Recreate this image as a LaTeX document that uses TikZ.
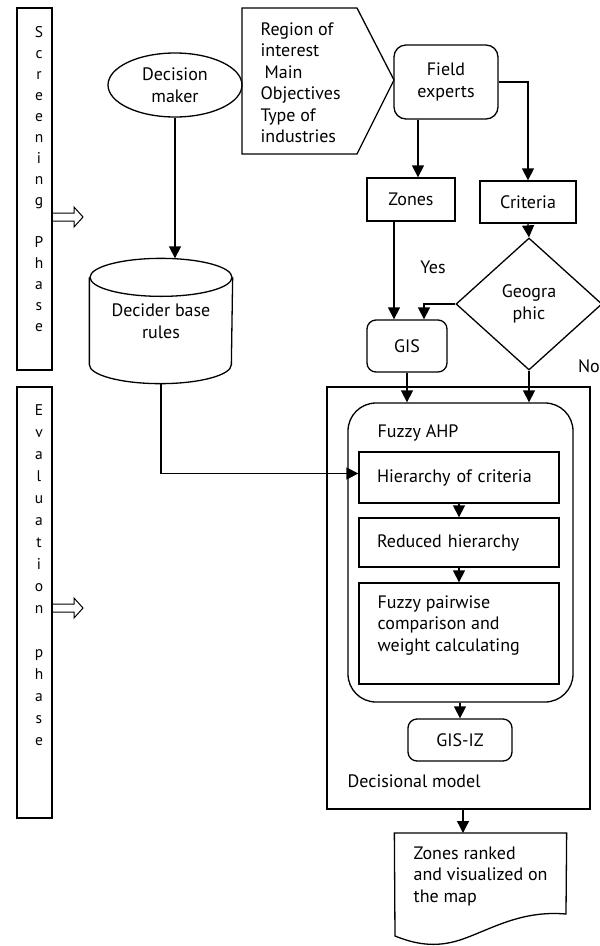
\documentclass[tikz,border=0pt]{standalone}
\usepackage{fontspec}
\setmainfont{PT Sans}
\usetikzlibrary{shapes.geometric,arrows.meta}

\begin{document}
\begin{tikzpicture}[x=1pt,y=-1pt,line width=1.3pt,
  every node/.style={font=\fontsize{18}{21.5}\selectfont, inner sep=0pt},
  box/.style={draw, rectangle},
  rbox/.style={draw, rectangle, rounded corners=12pt},
  inbox/.style={box, minimum width=200, text width=164, align=left},
  arr/.style={-{Triangle[length=12pt,width=12pt]}},
  letters/.style={align=center, anchor=north, font=\fontsize{15.5}{21}\selectfont}]
\useasboundingbox (0,0) rectangle (600,946);
\node[box, minimum width=35, minimum height=362] (screen) at (34.5,189) {};
\node[letters] (screentxt) at (39,26) {S\\c\\r\\e\\e\\n\\i\\n\\g\\[21pt]P\\h\\a\\s\\e};
\node[box, minimum width=35, minimum height=431] (eval) at (34.5,602.5) {};
\node[letters, font=\fontsize{15.5}{22}\selectfont] (evaltxt) at (39,404) {E\\v\\a\\l\\u\\a\\t\\i\\o\\n\\[22pt]p\\h\\a\\s\\e};
\draw[line width=1pt] (52,213) -- (74,213) -- (74,207) -- (83,217) -- (74,227) -- (74,221) -- (52,221);
\draw[line width=1pt] (52,604) -- (74,604) -- (74,598) -- (83,608) -- (74,618) -- (74,612) -- (52,612);
\node[draw, ellipse, minimum width=134, minimum height=64, align=center] (dm) at (175,85) {Decision\\maker};
\node[minimum width=142, minimum height=124, align=center] (rules) at (161,321) {Decider base\\rules};
\draw ([yshift=-19pt]rules.north) ellipse [x radius=71pt, y radius=19pt];
\draw ([yshift=-19pt]rules.north west) -- ([yshift=19pt]rules.south west) arc [start angle=180, end angle=360, x radius=71pt, y radius=19pt] -- ([yshift=-19pt]rules.north east);
\draw (242,8) -- (357,8) -- (394,80) -- (357,154) -- (242,154) -- cycle;
\node[align=left, anchor=north west] (region) at (260,22) {Region of\\interest\\\hspace*{4pt}Main\\Objectives\\Type of\\industries};
\node[rbox, minimum width=104, minimum height=74, align=center] (field) at (446,82) {Field\\experts};
\node[box, minimum width=88, minimum height=43] (zones) at (411,199.5) {Zones};
\node[box, minimum width=96, minimum height=42] (crit) at (528,202) {Criteria};
\node[draw, diamond, aspect=1.1, minimum width=146, minimum height=132, align=center] (geo) at (529,304) {Geogra\\phic};
\node[rbox, rounded corners=9pt, minimum width=80, minimum height=52] (gis) at (407,346) {GIS};
\node (yes) at (433,267) {Yes};
\node (no) at (589,366) {No};
\node[box, minimum width=263, minimum height=422] (model) at (458.5,598) {};
\node[anchor=west] (modeltxt) at (347,781) {Decisional model};
\node[draw, rounded corners=28pt, minimum width=225, minimum height=299] (fuzzy) at (460.5,552.5) {};
\node[anchor=west] (fuzzytxt) at (377,433) {Fuzzy AHP};
\node[inbox, minimum height=51] (hier) at (459,477.5) {Hierarchy of criteria};
\node[inbox, minimum height=49] (reduced) at (459,542.5) {Reduced hierarchy};
\node[box, minimum width=200, minimum height=101] (pair) at (459,633.5) {};
\node[align=left, anchor=north west] (pairtxt) at (377,595) {Fuzzy pairwise\\comparison and\\weight calculating};
\node[rbox, rounded corners=9pt, minimum width=104, minimum height=42] (gisiz) at (460,740) {GIS-IZ};
\node[minimum width=171, minimum height=99, anchor=north] (doc) at (480.5,833) {};
\node[align=left, anchor=north west] (doctxt) at (413,846) {Zones ranked\\and visualized on\\the map};
\draw (doc.north west) -- (doc.north east) -- (566,914) .. controls (520,910) and (490,930) .. (460,940) .. controls (435,948) and (415,944) .. (395,936) -- cycle;
\draw[arr] (dm.south) -- (dm.south |- rules.north);
\draw[arr] (rules.south) |- ([yshift=4pt]hier.west);
\draw[arr] ([xshift=-28pt]field.south) -- ([xshift=-28pt]field.south |- zones.north);
\draw[arr] (field.east) -| (crit.north);
\draw[arr] (crit.south) -- (geo.north);
\draw[arr] ([xshift=-17pt]zones.south) -- ([xshift=-17pt]zones.south |- gis.north);
\draw[arr] (geo.west) -| ([xshift=17pt]gis.north);
\draw[arr] (gis.south) -- (gis.south |- fuzzy.north);
\draw[arr] (geo.south) -- (geo.south |- fuzzy.north);
\draw[arr] (hier.south) -- (reduced.north);
\draw[arr] (reduced.south) -- (pair.north);
\draw[arr] (gisiz.north |- fuzzy.south) -- (gisiz.north);
\draw[arr] ([xshift=4.5pt]model.south) -- ([xshift=4.5pt]model.south |- doc.north);
\end{tikzpicture}
\end{document}
